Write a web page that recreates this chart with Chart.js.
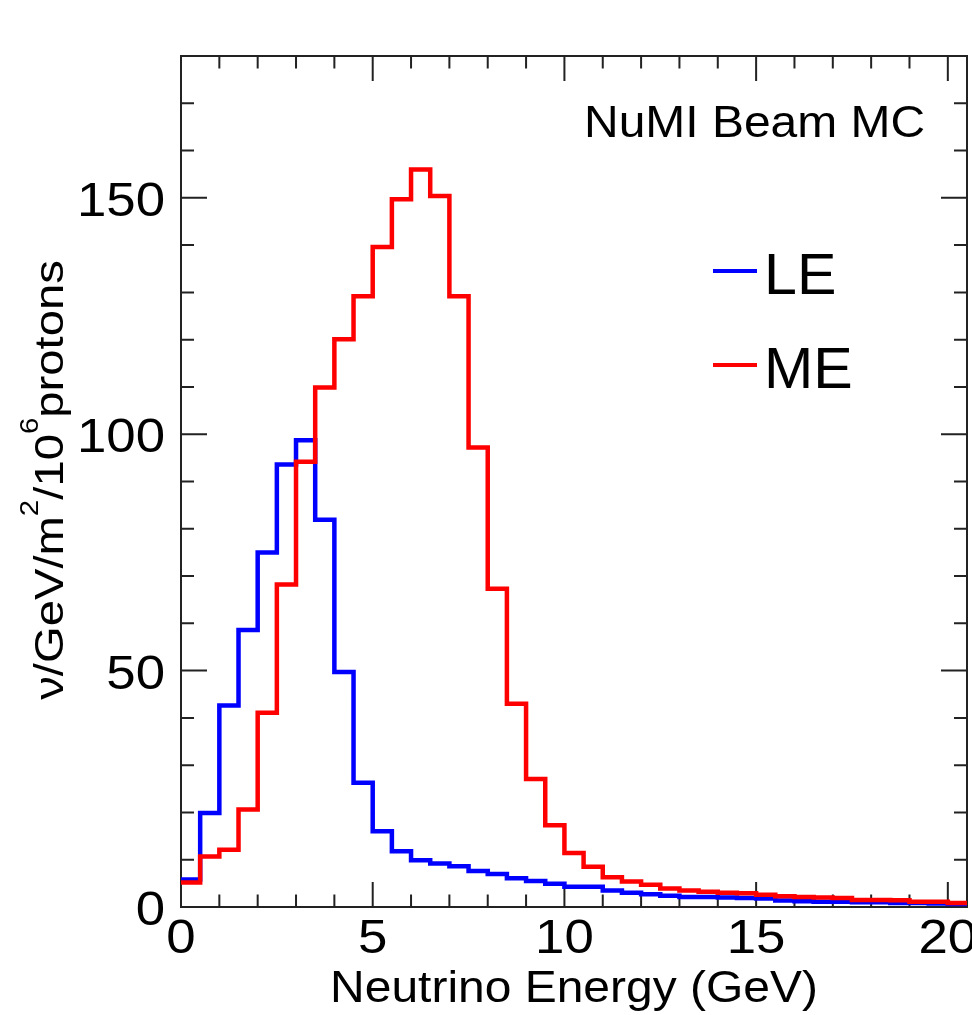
<!DOCTYPE html>
<html><head><meta charset="utf-8">
<script src="https://cdn.jsdelivr.net/npm/chart.js@4.4.0/dist/chart.umd.min.js"></script>
<style>html,body{margin:0;padding:0;background:#fff;}#wrap{width:972px;height:1015px;}</style>
</head><body><div id="wrap"><canvas id="c" width="972" height="1015"></canvas></div>
<script>
// ---- data (bin contents, 0.5 GeV bins from 0 to 20.5 GeV) ----
const binWidth = 0.5;
const leFlux = [5.8,19.9,42.6,58.6,75.0,93.6,98.7,81.9,49.7,26.3,
                16.0,11.8,9.9,9.2,8.6,7.6,7.0,6.1,5.5,4.9,
                4.3,4.3,3.5,3.0,2.7,2.4,2.1,2.1,2.0,1.9,
                1.8,1.4,1.2,1.1,1.1,1.0,1.0,0.85,0.85,0.75,0.65];
const meFlux = [5.2,10.7,12.1,20.6,41.1,68.2,94.2,109.9,120.1,129.2,
                139.6,149.7,156.0,150.4,129.2,97.2,67.3,43.0,27.1,17.3,
                11.4,8.5,6.3,5.4,4.7,3.9,3.5,3.2,3.0,2.9,
                2.6,2.3,2.1,2.0,1.9,1.5,1.5,1.45,1.1,1.1,0.85];
const seriesLabels = ['LE','ME'];
const xTickValues = [0,5,10,15,20];
const yTickValues = [0,50,100,150];
const xMinorStep = 1, yMinorStep = 10;
const xTitle = 'Neutrino Energy (GeV)';
const plotLabel = 'NuMI Beam MC';

function toSteps(vals){
  const pts = vals.map((v,i)=>({x:i*binWidth, y:v}));
  pts.push({x:vals.length*binWidth, y:vals[vals.length-1]});
  return pts;
}

const FONT = '"Liberation Sans", Arial, Helvetica, sans-serif';
function txt(ctx, s, x, y, size, sx, align){
  ctx.save();
  ctx.font = size + 'px ' + FONT;
  const w = ctx.measureText(s).width * sx;
  let x0 = x;
  if (align === 'center') x0 = x - w/2; else if (align === 'right') x0 = x - w;
  ctx.translate(x0, y);
  ctx.scale(sx, 1);
  ctx.textAlign = 'left'; ctx.textBaseline = 'alphabetic';
  ctx.fillStyle = '#000';
  ctx.fillText(s, 0, 0);
  ctx.restore();
  return w;
}

const framePlugin = {
  id: 'rootFrame',
  beforeDatasetsDraw(chart){
    const ctx = chart.ctx, a = chart.chartArea;
    const xs = chart.scales.x, ys = chart.scales.y;
    ctx.save();
    ctx.strokeStyle = '#222'; ctx.lineWidth = 2;
    ctx.strokeRect(a.left, a.top, a.right - a.left, a.bottom - a.top);
    ctx.beginPath();
    for (let v = xs.min; v <= xs.max + 1e-9; v += xMinorStep){
      const px = xs.getPixelForValue(v);
      const len = (v % 5 === 0) ? 25 : 12.5;
      ctx.moveTo(px, a.bottom); ctx.lineTo(px, a.bottom - len);
      ctx.moveTo(px, a.top); ctx.lineTo(px, a.top + len);
    }
    for (let v = ys.min; v <= ys.max + 1e-9; v += yMinorStep){
      const py = ys.getPixelForValue(v);
      const len = (v % 50 === 0) ? 26 : 13;
      ctx.moveTo(a.left, py); ctx.lineTo(a.left + len, py);
      ctx.moveTo(a.right, py); ctx.lineTo(a.right - len, py);
    }
    ctx.stroke();
    ctx.restore();
  },
  afterDraw(chart){
    const ctx = chart.ctx, a = chart.chartArea;
    const xs = chart.scales.x, ys = chart.scales.y;
    // tick labels
    xs.ticks.forEach(t => txt(ctx, String(t.value), xs.getPixelForValue(t.value), 953, 48, 1.1, 'center'));
    ys.ticks.forEach(t => txt(ctx, String(t.value), 165, ys.getPixelForValue(t.value) + 18, 48, 1.1, 'right'));
    // x title
    txt(ctx, xTitle, (a.left + a.right)/2, 1002, 44, 1.09, 'center');
    // plot label
    txt(ctx, plotLabel, 584, 137, 44, 1.09, 'left');
    // legend
    const ds = chart.data.datasets;
    const legY = [271, 365];
    ds.forEach((d, i) => {
      ctx.save();
      ctx.strokeStyle = d.borderColor; ctx.lineWidth = 4;
      ctx.beginPath(); ctx.moveTo(713, legY[i]); ctx.lineTo(757, legY[i]); ctx.stroke();
      ctx.restore();
      txt(ctx, d.label, 764, legY[i] + 22.5, 58, 1.02, 'left');
    });
    // y title (rotated, with superscripts)
    const segs = [['ν/GeV/m', false], ['2', true], ['/10', false], ['6', true], ['protons', false]];
    const fs = 40, sfs = 25, sx = 1.18;
    ctx.save();
    let total = 0;
    segs.forEach(([s, sup]) => { ctx.font = (sup ? sfs : fs) + 'px ' + FONT; total += ctx.measureText(s).width * sx; });
    ctx.translate(63, 480);
    ctx.rotate(-Math.PI/2);
    let cx = -total/2;
    segs.forEach(([s, sup]) => {
      const w = txt(ctx, s, cx, sup ? -25 : 0, sup ? sfs : fs, sx, 'left');
      cx += w;
    });
    ctx.restore();
  }
};

new Chart(document.getElementById('c').getContext('2d'), {
  type: 'line',
  data: {
    datasets: [
      {label: seriesLabels[0], data: toSteps(leFlux), borderColor: '#0000ff', borderWidth: 4.5,
       stepped: 'before', pointRadius: 0, fill: false, order: 1, borderJoinStyle: 'miter'},
      {label: seriesLabels[1], data: toSteps(meFlux), borderColor: '#ff0000', borderWidth: 4.5,
       stepped: 'before', pointRadius: 0, fill: false, order: 0, borderJoinStyle: 'miter'}
    ]
  },
  options: {
    responsive: false, animation: false, devicePixelRatio: 1,
    layout: {padding: {left: 0, top: 56, right: 5, bottom: 0}, autoPadding: false},
    plugins: {legend: {display: false}, tooltip: {enabled: false}, title: {display: false}},
    scales: {
      x: {type: 'linear', min: 0, max: 20.5,
          grid: {display: false}, border: {display: false}, ticks: {display: false},
          afterBuildTicks: s => { s.ticks = xTickValues.map(v => ({value: v})); },
          afterFit: s => { s.height = 108; }},
      y: {type: 'linear', min: 0, max: 180,
          grid: {display: false}, border: {display: false}, ticks: {display: false},
          afterBuildTicks: s => { s.ticks = yTickValues.map(v => ({value: v})); },
          afterFit: s => { s.width = 181; }}
    }
  },
  plugins: [framePlugin]
});
</script>
</body></html>
